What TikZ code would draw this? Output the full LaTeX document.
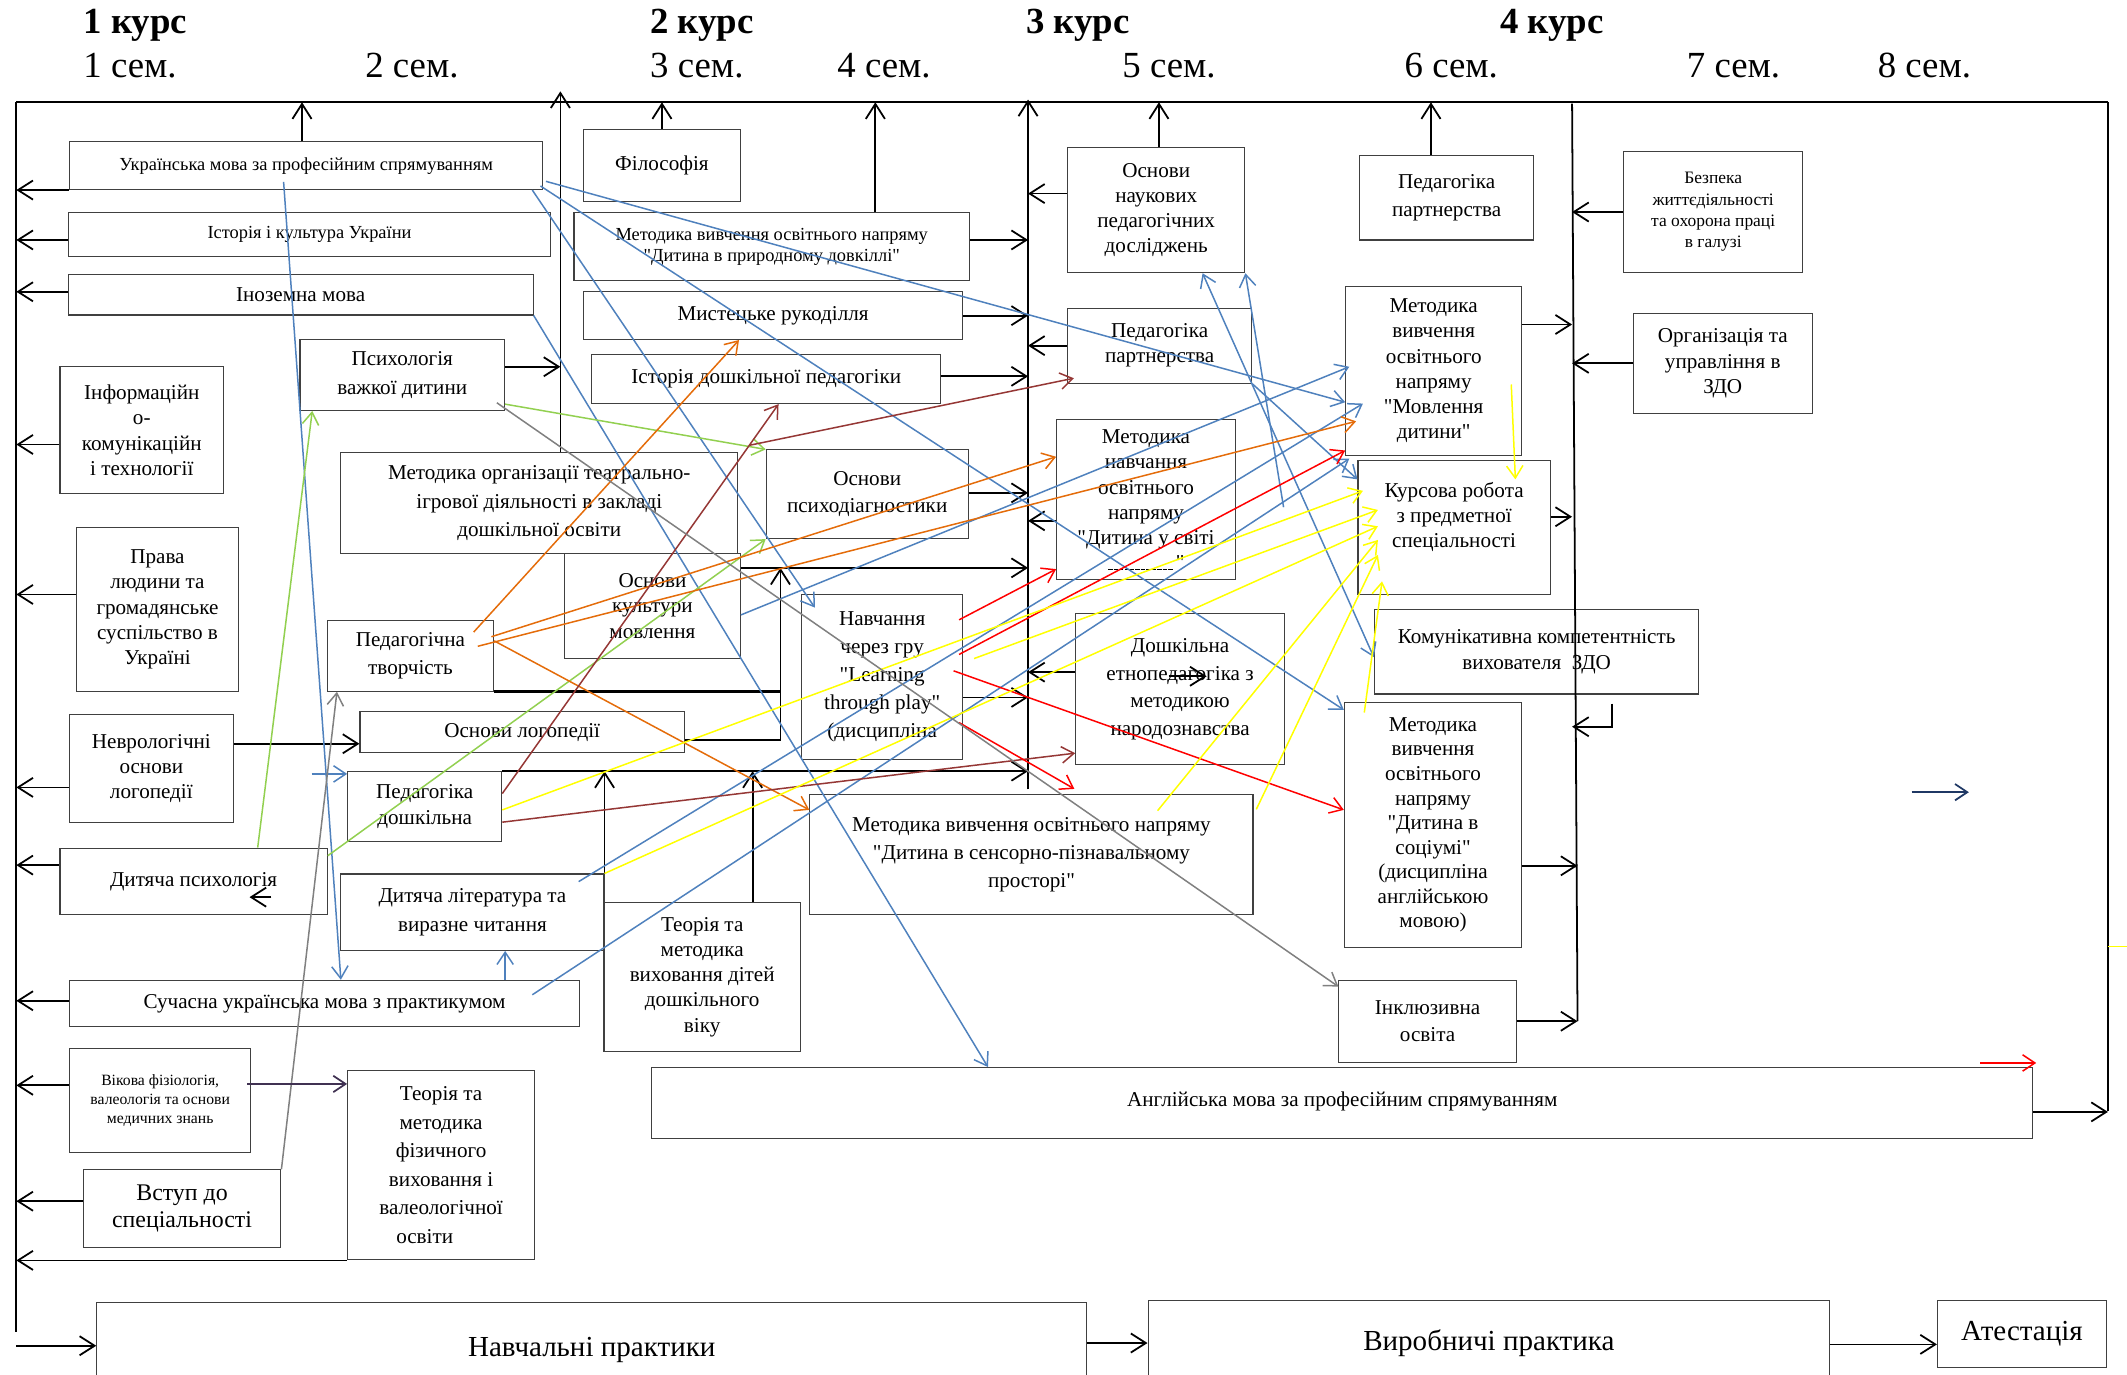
\documentclass[tikz,border=0pt]{standalone}
\usepackage{fontspec}
\setmainfont{Liberation Serif}[Ligatures=TeXOff]
\usetikzlibrary{arrows.meta}

\definecolor{cblue}{RGB}{79,129,189}
\definecolor{cgreen}{RGB}{146,208,80}
\definecolor{corange}{RGB}{228,108,10}
\definecolor{cbrown}{RGB}{149,55,53}
\definecolor{cred}{RGB}{255,0,0}
\definecolor{cyellow}{RGB}{255,255,0}
\definecolor{cgray}{RGB}{128,128,128}
\definecolor{cpurple}{RGB}{64,49,82}
\definecolor{cnavy}{RGB}{31,56,100}

\newcommand{\dashrow}{\hbox to 50pt{\leaders\hbox to 4pt{\hss\vrule width 3.2pt height 0.7pt depth 0pt\hss}\hfill}}

\tikzset{
  box/.style={draw=black!75, line width=0.8pt, align=center, inner sep=1pt,
    font=\fontsize{15.5}{18.5}\selectfont},
  wide/.style={font=\fontsize{15.5}{21}\selectfont},
  smalltxt/.style={font=\fontsize{13.5}{15.5}\selectfont},
  tinytxt/.style={font=\fontsize{11.5}{14}\selectfont},
  bigtxt/.style={font=\fontsize{17.5}{19.5}\selectfont},
  hugetxt/.style={font=\fontsize{21.3}{24}\selectfont},
  rail/.style={line width=1.3pt},
  link/.style={line width=1.3pt, -{Straight Barb[length=11pt,width=14pt]}},
  carr/.style={line width=1.1pt, -{Straight Barb[length=9pt,width=12pt]}},
  bluearr/.style={carr, draw=cblue},
  greenarr/.style={carr, draw=cgreen},
  orangearr/.style={carr, draw=corange},
  brownarr/.style={carr, draw=cbrown},
  redarr/.style={carr, draw=cred},
  yellowarr/.style={carr, draw=cyellow},
  grayarr/.style={carr, draw=cgray}
}

\begin{document}
\begin{tikzpicture}[x=1pt,y=-1pt]
        \useasboundingbox (0,0) rectangle (1560,1008);

        %% courses and semesters
        \node[anchor=base west, inner sep=0pt, font=\bfseries\fontsize{27}{30}\selectfont] (kurs1) at (61,24.5) {1 курс};
        \node[anchor=base west, inner sep=0pt, font=\bfseries\fontsize{27}{30}\selectfont] (kurs2) at (476.7,24.5) {2 курс};
        \node[anchor=base west, inner sep=0pt, font=\bfseries\fontsize{27}{30}\selectfont] (kurs3) at (752.5,24.5) {3 курс};
        \node[anchor=base west, inner sep=0pt, font=\bfseries\fontsize{27}{30}\selectfont] (kurs4) at (1100,24.5) {4 курс};

        \node[anchor=base west, inner sep=0pt, font=\fontsize{27}{30}\selectfont] (sem1) at (61,56.6) {1 сем.};
        \node[anchor=base west, inner sep=0pt, font=\fontsize{27}{30}\selectfont] (sem2) at (267.7,56.6) {2 сем.};
        \node[anchor=base west, inner sep=0pt, font=\fontsize{27}{30}\selectfont] (sem3) at (476.7,56.6) {3 сем.};
        \node[anchor=base west, inner sep=0pt, font=\fontsize{27}{30}\selectfont] (sem4) at (614,56.6) {4 сем.};
        \node[anchor=base west, inner sep=0pt, font=\fontsize{27}{30}\selectfont] (sem5) at (823,56.6) {5 сем.};
        \node[anchor=base west, inner sep=0pt, font=\fontsize{27}{30}\selectfont] (sem6) at (1030,56.6) {6 сем.};
        \node[anchor=base west, inner sep=0pt, font=\fontsize{27}{30}\selectfont] (sem7) at (1237,56.6) {7 сем.};
        \node[anchor=base west, inner sep=0pt, font=\fontsize{27}{30}\selectfont] (sem8) at (1377,56.6) {8 сем.};

        %% frame points
        \coordinate (L) at (12,75);
        \coordinate (R) at (1546,75);
        \coordinate (Lend) at (12,977);
        \coordinate (Rend) at (1546,815);
        \coordinate (Lin) at (12,987);
        \coordinate (C1) at (411,67);
        \coordinate (C2) at (754,73);
        \coordinate (C2end) at (754,579);
        \coordinate (C3) at (1153,76);
        \coordinate (C3end) at (1157,749);
        \coordinate (kt) at (1182,516);
        \coordinate (nv) at (1402,581);

        %% 1 course
        \node[box, smalltxt, minimum width=347pt, minimum height=35pt] (ukrprof) at (224.5,121.5) {Українська мова за професійним спрямуванням};
        \node[box, smalltxt, minimum width=354pt, minimum height=32pt] (istor) at (227,172) {Історія і культура України};
        \node[box, minimum width=341pt, minimum height=30pt] (inoz) at (220.5,216) {Іноземна мова};
        \node[box, wide, minimum width=150pt, minimum height=52pt] (psyvazh) at (295,275) {Психологія\\важкої дитини};
        \node[box, minimum width=120pt, minimum height=93pt] (inform) at (104,315.5) {Інформаційн\\о-\\комунікаційн\\і технології};
        \node[box, minimum width=119pt, minimum height=120pt] (prava) at (115.5,447) {Права\\людини та\\громадянське\\суспільство в\\Україні};
        \node[box, minimum width=120pt, minimum height=79pt] (nevro) at (111,563.5) {Неврологічні\\основи\\логопедії};
        \node[box, minimum width=196pt, minimum height=49pt] (dytpsy) at (142,646.5) {Дитяча психологія};
        \node[box, minimum width=374pt, minimum height=34pt] (suchukr) at (238,736) {Сучасна українська мова з практикумом};
        \node[box, tinytxt, minimum width=133pt, minimum height=76pt] (vikova) at (117.5,807) {Вікова фізіологія,\\валеологія та основи\\медичних знань};
        \node[box, bigtxt, minimum width=145pt, minimum height=57pt] (vstup) at (133.5,886.5) {Вступ до\\спеціальності};
        \node[box, wide, minimum width=137pt, minimum height=139pt] (teorfiz) at (323.5,854.5) {Теорія та\\методика\\фізичного\\виховання і\\валеологічної\\освіти\hspace*{24pt}};
        \node[box, wide, minimum width=122pt, minimum height=52pt] (tvorch) at (301,481) {Педагогічна\\творчість};
        \node[box, wide, minimum width=291pt, minimum height=74pt] (teatr) at (395.5,369) {Методика організації театрально-\\ігрової діяльності в закладі\\дошкільної освіти};
        \node[box, minimum width=238pt, minimum height=30pt] (lohop) at (383,537) {Основи логопедії};
        \node[box, minimum width=113pt, minimum height=51pt] (peddosh) at (311.5,591.5) {Педагогіка\\дошкільна};
        \node[box, wide, minimum width=193pt, minimum height=56pt] (dytlit) at (346.5,669) {Дитяча література та\\виразне читання};
        \node[box, minimum width=144pt, minimum height=109pt] (teorvykh) at (515,716.5) {Теорія та\\методика\\виховання дітей\\дошкільного\\віку};

        %% 2 course
        \node[box, minimum width=115pt, minimum height=53pt] (filos) at (485.5,121.5) {Філософія};
        \node[box, smalltxt, minimum width=290pt, minimum height=50pt] (pryrod) at (566,181) {Методика вивчення освітнього напряму\\"Дитина в природному довкіллі"};
        \node[box, minimum width=278pt, minimum height=35pt] (mystets) at (567,231.5) {Мистецьке рукоділля};
        \node[box, minimum width=256pt, minimum height=36pt] (istdosh) at (562,278) {Історія дошкільної педагогіки};
        \node[box, minimum width=129pt, minimum height=77pt] (kultmov) at (478.5,444.5) {Основи\\культури\\мовлення};
        \node[box, font=\fontsize{15.5}{20}\selectfont, minimum width=148pt, minimum height=65pt] (psydiag) at (636,362.5) {Основи\\психодіагностики};
        \node[box, font=\fontsize{15.5}{20.5}\selectfont, minimum width=118pt, minimum height=121pt] (navchgru) at (647,496.5) {Навчання\\через гру\\"Learning\\through play"\\(дисципліна};
        \node[box, font=\fontsize{15.5}{20.5}\selectfont, minimum width=325pt, minimum height=88pt] (sensor) at (756.5,627) {Методика вивчення освітнього напряму\\"Дитина в сенсорно-пізнавальному\\просторі"};
        \node[box, minimum width=1013pt, minimum height=52pt] (angl) at (984.5,809) {\raisebox{5pt}{Англійська мова за професійним спрямуванням}};

        %% 3 course
        \node[box, minimum width=130pt, minimum height=92pt] (naukdos) at (848,154) {Основи\\наукових\\педагогічних\\досліджень};
        \node[box, minimum width=135pt, minimum height=55pt] (pedpart3) at (850.5,253.5) {Педагогіка\\партнерства};
        \node[box, minimum width=131pt, minimum height=117pt] (dytsvit) at (840.5,366.5) {Методика\\навчання\\освітнього\\напряму\\"Дитина у світі\\\dashrow"};
        \node[box, font=\fontsize{15.5}{20.5}\selectfont, minimum width=153pt, minimum height=111pt] (etnoped) at (865.5,505.5) {Дошкільна\\етнопедагогіка з\\методикою\\народознавства};

        %% 4 course
        \node[box, wide, minimum width=128pt, minimum height=62pt] (pedpart4) at (1061,145) {Педагогіка\\партнерства};
        \node[box, minimum width=129pt, minimum height=124pt] (movl) at (1051.5,272) {Методика\\вивчення\\освітнього\\напряму\\"Мовлення\\дитини"};
        \node[box, minimum width=141pt, minimum height=98pt] (kursova) at (1066.5,387) {Курсова робота\\з предметної\\спеціальності\\~};
        \node[box, minimum width=238pt, minimum height=62pt] (komun) at (1127,478) {Комунікативна компетентність\\вихователя\ \ ЗДО};
        \node[box, font=\fontsize{15.5}{18}\selectfont, minimum width=130pt, minimum height=180pt] (sotsium) at (1051,605) {Методика\\вивчення\\освітнього\\напряму\\"Дитина в\\соціумі"\\(дисципліна\\англійською\\мовою)};
        \node[box, font=\fontsize{15.5}{20}\selectfont, minimum width=130pt, minimum height=60pt] (inkl) at (1047,749) {Інклюзивна\\освіта};
        \node[box, font=\fontsize{12.8}{15.7}\selectfont, minimum width=131pt, minimum height=89pt] (bezpeka) at (1256.5,155.5) {Безпека\\життєдіяльності\\та охорона праці\\в галузі};
        \node[box, minimum width=131pt, minimum height=73pt] (orhan) at (1263.5,266.5) {Організація та\\управління в\\ЗДО};

        %% practice
        \node[box, hugetxt, minimum width=726pt, minimum height=70pt] (navchprak) at (434,990) {Навчальні практики};
        \node[box, hugetxt, minimum width=500pt, minimum height=71pt] (vyrob) at (1092,989.5) {\raisebox{13pt}{Виробничі практика}};
        \node[box, hugetxt, minimum width=124pt, minimum height=49pt] (atest) at (1483,978.5) {Атестація};

        %% frame
        \draw[rail] (L) -- (R);
        \draw[rail] (L) -- (Lend);
        \draw[rail] (R) -- (Rend);
        \draw[link] ([xshift=15.5pt]teatr.north) coordinate (p) -- (p |- C1);
        \draw[link] (C2end) -- (C2);
        \draw[rail] (C3) -- (C3end);

        %% to the left line
        \draw[link] (ukrprof.south west) -- (ukrprof.south west -| L);
        \draw[link] ([yshift=-4pt]istor.west) coordinate (p) -- (p -| L);
        \draw[link] ([yshift=2pt]inoz.west) coordinate (p) -- (p -| L);
        \draw[link] ([yshift=-10.5pt]inform.west) coordinate (p) -- (p -| L);
        \draw[link] ([yshift=11pt]prava.west) coordinate (p) -- (p -| L);
        \draw[link] ([yshift=-14pt]nevro.west) coordinate (p) -- (p -| L);
        \draw[link] ([yshift=12pt]dytpsy.west) coordinate (p) -- (p -| L);
        \draw[link] ([yshift=2pt]suchukr.west) coordinate (p) -- (p -| L);
        \draw[link] ([yshift=11pt]vikova.west) coordinate (p) -- (p -| L);
        \draw[link] ([yshift=5.5pt]vstup.west) coordinate (p) -- (p -| L);
        \draw[link] (teorfiz.south west) -- (teorfiz.south west -| L);

        %% up to the top line
        \draw[link] ([xshift=-3pt]ukrprof.north) coordinate (p) -- (p |- L);
        \draw[link] (filos.north) -- (filos.north |- L);
        \draw[link] ([xshift=76pt]pryrod.north) coordinate (p) -- (p |- L);
        \draw[link] ([xshift=2pt]naukdos.north) coordinate (p) -- (p |- L);
        \draw[link] ([xshift=-11.5pt]pedpart4.north) coordinate (p) -- (p |- L);

        %% inner lines
        \draw[link] ([yshift=6pt]psyvazh.east) coordinate (p) -- (p -| C1);
        \draw[link] ([yshift=5pt]pryrod.east) coordinate (p) -- (p -| C2);
        \draw[link] (mystets.east) -- (mystets.east -| C2);
        \draw[link] ([yshift=2pt]istdosh.east) coordinate (p) -- (p -| C2);
        \draw[link] ([yshift=1pt]psydiag.east) coordinate (p) -- (p -| C2);
        \draw[link] ([yshift=28pt]kultmov.east) coordinate (J) -- (J -| C2);
        \draw[link] ([yshift=-15pt]navchgru.east) coordinate (p) -- (p -| C2);
        \draw[link] (peddosh.north east) -- (peddosh.north east -| C2);
        \draw[link] ([yshift=12pt]naukdos.west) coordinate (p) -- (p -| C2);
        \draw[link] (pedpart3.west) -- (pedpart3.west -| C2);
        \draw[link] ([yshift=-15.5pt]dytsvit.west) coordinate (p) -- (p -| C2);
        \draw[link] ([yshift=12.5pt]etnoped.west) coordinate (p) -- (p -| C2);
        \coordinate (J) at ([xshift=29pt]J);
        \draw[rail, line width=2pt] (tvorch.south east) -- (tvorch.south east -| J);
        \draw[link] ([yshift=-5.5pt]lohop.east) -| (J);
        \draw[link] ([yshift=18pt]nevro.east) coordinate (p) -- (p -| lohop.west);
        \draw[link] (dytlit.north east) -- (dytlit.north east |- peddosh.north east);
        \draw[link] ([xshift=37pt]teorvykh.north) coordinate (p) -- (p |- peddosh.north east);
        \draw[link] ([yshift=34pt]movl.east) coordinate (p) -- (p -| C3);
        \draw[link] ([yshift=8pt]kursova.east) coordinate (p) -- (p -| C3);
        \draw[link] ([yshift=-30pt]sotsium.east) coordinate (p) -- (p -| C3end);
        \draw[link] (inkl.east) -- (inkl.east -| C3end);
        \draw[link] (bezpeka.west) -- (bezpeka.west -| C3);
        \draw[link] (orhan.west) -- (orhan.west -| C3);
        \draw[link] (kt) -- ++(0,17) coordinate (p) -- (p -| C3);
        \draw[link] ([yshift=-6.5pt]angl.east) coordinate (p) -- (p -| R);
        \draw[link] (Lin) -- (Lin -| navchprak.west);
        \draw[link] ([yshift=5pt]navchprak.east) coordinate (p) -- (p -| vyrob.west);
        \draw[link] ([yshift=3.5pt]vyrob.east) coordinate (p) -- (p -| atest.west);
        \draw[link] ([xshift=57pt,yshift=-11.5pt]dytpsy.center) -- ++(-16,0);
        \draw[link] ([xshift=-8.5pt,yshift=9.5pt]etnoped.center) -- ++(28,0);

        %% blue
        \draw[bluearr] ([xshift=-16.5pt,yshift=6pt]ukrprof.south) -- ([xshift=12pt]suchukr.north);
        \draw[bluearr] ([xshift=2pt,yshift=-11.5pt]ukrprof.east) -- ([yshift=-23pt]movl.west);
        \draw[bluearr] ([xshift=-2pt,yshift=3pt]ukrprof.south east) -- ([yshift=-6pt]sotsium.north west);
        \draw[bluearr] ([xshift=-8pt]ukrprof.south east) -- ([xshift=10pt,yshift=-10pt]navchgru.north west);
        \draw[bluearr] (inoz.south east) -- ([xshift=247pt]angl.north west);
        \draw[bluearr] ([xshift=-35pt,yshift=-11pt]suchukr.north east) -- ([xshift=3pt,yshift=-2pt]movl.south west);
        \draw[bluearr] ([xshift=-19pt,yshift=-6pt]dytlit.north east) -- ([xshift=13pt,yshift=-24pt]movl.west);
        \draw[bluearr] ([yshift=-6.5pt]kultmov.east) -- ([xshift=3pt,yshift=3pt]movl.west);
        \draw[bluearr, {Straight Barb[length=9pt,width=12pt]}-{Straight Barb[length=9pt,width=12pt]}] ([xshift=34pt]naukdos.south) -- ([yshift=-4pt]komun.west);
        \draw[bluearr] ([xshift=35pt,yshift=-5.5pt]dytsvit.east) -- (naukdos.south east);
        \draw[bluearr] (pedpart3.south east) -- ([yshift=-14pt]kursova.north west);
        \draw[bluearr] ([xshift=-26pt,yshift=-2pt]peddosh.north west) -- ([yshift=-2pt]peddosh.north west);
        \draw[bluearr] ([xshift=132.5pt]suchukr.north) -- ([xshift=24pt]dytlit.south);

        %% green
        \draw[greenarr] ([xshift=47pt]dytpsy.north) -- ([xshift=-66pt]psyvazh.south);
        \draw[greenarr] ([yshift=5pt]psyvazh.south east) -- (psydiag.north west);
        \draw[greenarr] ([yshift=-6pt]dytpsy.north east) -- (psydiag.south west);

        %% orange
        \draw[orangearr] ([xshift=-15pt,yshift=-9pt]tvorch.north east) -- ([xshift=-25pt]mystets.south);
        \draw[orangearr] ([xshift=-2pt,yshift=14pt]tvorch.east) -- ([yshift=31.5pt]dytsvit.west);
        \draw[orangearr] ([xshift=-12pt,yshift=7pt]tvorch.east) -- ([xshift=8pt,yshift=-37pt]movl.west);
        \draw[orangearr] ([yshift=11pt]tvorch.east) -- ([yshift=33pt]sensor.west);

        %% brown
        \draw[brownarr] ([yshift=9.5pt]peddosh.east) -- ([xshift=9pt]istdosh.south);
        \draw[brownarr] ([xshift=-12pt,yshift=3pt]psydiag.north west) -- ([xshift=5pt,yshift=4pt]pedpart3.south west);
        \draw[brownarr] ([yshift=-11.5pt]peddosh.east) -- ([yshift=9pt]etnoped.south west);

        %% red
        \draw[redarr] ([xshift=-3pt,yshift=-19pt]navchgru.north east) -- ([yshift=8pt]dytsvit.south west);
        \draw[redarr] ([xshift=-3pt,yshift=16.5pt]navchgru.east) -- ([yshift=4pt]movl.south west);
        \draw[redarr] ([xshift=-7pt,yshift=4.5pt]navchgru.east) -- ([yshift=11pt]sotsium.west);
        \draw[redarr] ([xshift=-3pt,yshift=-33.5pt]navchgru.east) -- ([xshift=31.5pt,yshift=4pt]sensor.north);
        \draw[redarr] ([xshift=-39pt,yshift=3pt]angl.north east) -- ([xshift=2pt,yshift=3pt]angl.north east);

        %% yellow
        \draw[yellowarr] ([xshift=-8pt,yshift=-10pt]movl.east) -- ([xshift=-26pt,yshift=-14pt]kursova.north east);
        \draw[yellowarr] ([yshift=-2.5pt]peddosh.east) -- ([xshift=4pt,yshift=27pt]kursova.west);
        \draw[yellowarr] (dytlit.north east) -- ([xshift=15pt,yshift=1pt]kursova.west);
        \draw[yellowarr] ([xshift=8pt,yshift=13.5pt]navchgru.east) -- ([xshift=15pt,yshift=13pt]kursova.west);
        \draw[yellowarr] ([xshift=92.5pt,yshift=-12pt]sensor.north) -- ([xshift=15pt,yshift=-9pt]kursova.west);
        \draw[yellowarr] ([xshift=2pt,yshift=-11pt]sensor.north east) -- ([xshift=15pt,yshift=-20pt]kursova.west);
        \draw[yellowarr] ([xshift=15pt,yshift=-8pt]sotsium.north west) -- ([xshift=18pt,yshift=10pt]kursova.south west);
        \draw[cyellow, line width=1.1pt] ([yshift=121pt]Rend) -- ++(14,0);

        %% gray, purple, navy
        \draw[grayarr] ([xshift=-6pt,yshift=6pt]psyvazh.south east) -- ([yshift=-5pt]inkl.north west);
        \draw[grayarr] (vstup.north east) -- ([xshift=7.5pt]tvorch.south west);
        \draw[carr, draw=cpurple, line width=1.3pt] ([xshift=-3pt,yshift=12pt]vikova.east) coordinate (p) -- (p -| teorfiz.west);
        \draw[carr, draw=cnavy, line width=1.3pt] (nv) -- ++(42,0);
    \end{tikzpicture}
\end{document}
